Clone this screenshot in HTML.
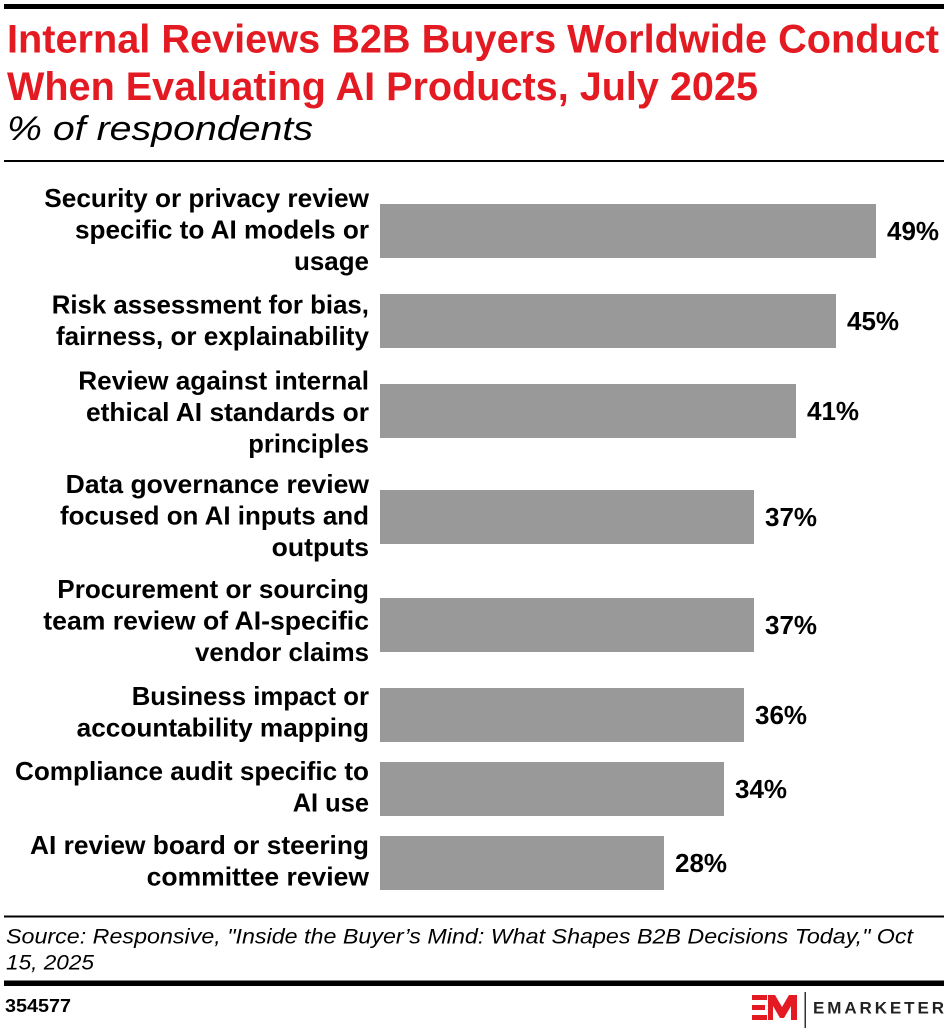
<!DOCTYPE html>
<html>
<head>
<meta charset="utf-8">
<style>
  html, body { margin: 0; padding: 0; background: #fff; }
  body { width: 948px; height: 1028px; overflow: hidden; }
  svg { display: block; }
  .lab { font-family: "Liberation Sans", Arial, sans-serif; font-weight: bold; font-size: 26px; fill: #000; }
  .val { font-family: "Liberation Sans", Arial, sans-serif; font-weight: bold; font-size: 26px; fill: #000; }
</style>
</head>
<body>
<svg width="948" height="1028" viewBox="0 0 948 1028" xmlns="http://www.w3.org/2000/svg">
  <rect x="0" y="0" width="948" height="1028" fill="#fff"/>
  <!-- top rule -->
  <rect x="4" y="4" width="940" height="5" fill="#000"/>

  <!-- title -->
  <text x="7" y="52.5" font-family="Liberation Sans, Arial, sans-serif" font-weight="bold" font-size="39.5" fill="#e41a22" textLength="932" lengthAdjust="spacingAndGlyphs">Internal Reviews B2B Buyers Worldwide Conduct</text>
  <text x="7" y="100" font-family="Liberation Sans, Arial, sans-serif" font-weight="bold" font-size="39.5" fill="#e41a22" textLength="751" lengthAdjust="spacingAndGlyphs">When Evaluating AI Products, July 2025</text>
  <text x="7" y="140" font-family="Liberation Sans, Arial, sans-serif" font-style="italic" font-size="34" fill="#000" textLength="306" lengthAdjust="spacingAndGlyphs">% of respondents</text>

  <rect x="4" y="160" width="940" height="2" fill="#000"/>

  <!-- bars -->
  <g fill="#999999">
    <rect x="380" y="204" width="496" height="54"/>
    <rect x="380" y="294" width="456" height="54"/>
    <rect x="380" y="384" width="416" height="54"/>
    <rect x="380" y="490" width="374" height="54"/>
    <rect x="380" y="598" width="374" height="54"/>
    <rect x="380" y="688" width="364" height="54"/>
    <rect x="380" y="762" width="344" height="54"/>
    <rect x="380" y="836" width="284" height="54"/>
  </g>

  <!-- values -->
  <text class="val" x="887" y="240">49%</text>
  <text class="val" x="847" y="330">45%</text>
  <text class="val" x="807" y="420">41%</text>
  <text class="val" x="765" y="526">37%</text>
  <text class="val" x="765" y="634">37%</text>
  <text class="val" x="755" y="724">36%</text>
  <text class="val" x="735" y="798">34%</text>
  <text class="val" x="675" y="872">28%</text>

  <!-- category labels -->
  <text class="lab" x="44.3" y="207" textLength="324.7" lengthAdjust="spacingAndGlyphs">Security or privacy review</text>
  <text class="lab" x="75" y="238.5" textLength="294" lengthAdjust="spacingAndGlyphs">specific to AI models or</text>
  <text class="lab" x="294" y="270" textLength="75" lengthAdjust="spacingAndGlyphs">usage</text>

  <text class="lab" x="51.7" y="313.5" textLength="317.3" lengthAdjust="spacingAndGlyphs">Risk assessment for bias,</text>
  <text class="lab" x="56" y="345" textLength="313" lengthAdjust="spacingAndGlyphs">fairness, or explainability</text>

  <text class="lab" x="78.3" y="389.5" textLength="290.7" lengthAdjust="spacingAndGlyphs">Review against internal</text>
  <text class="lab" x="86" y="421" textLength="283" lengthAdjust="spacingAndGlyphs">ethical AI standards or</text>
  <text class="lab" x="248.3" y="452.5" textLength="120.7" lengthAdjust="spacingAndGlyphs">principles</text>

  <text class="lab" x="65.7" y="493" textLength="303.3" lengthAdjust="spacingAndGlyphs">Data governance review</text>
  <text class="lab" x="60" y="524.5" textLength="309" lengthAdjust="spacingAndGlyphs">focused on AI inputs and</text>
  <text class="lab" x="271.7" y="556" textLength="97.3" lengthAdjust="spacingAndGlyphs">outputs</text>

  <text class="lab" x="57.3" y="598" textLength="311.7" lengthAdjust="spacingAndGlyphs">Procurement or sourcing</text>
  <text class="lab" x="43.3" y="629.5" textLength="325.7" lengthAdjust="spacingAndGlyphs">team review of AI-specific</text>
  <text class="lab" x="195" y="661" textLength="174" lengthAdjust="spacingAndGlyphs">vendor claims</text>

  <text class="lab" x="131.7" y="705" textLength="237.3" lengthAdjust="spacingAndGlyphs">Business impact or</text>
  <text class="lab" x="76.7" y="736.5" textLength="292.3" lengthAdjust="spacingAndGlyphs">accountability mapping</text>

  <text class="lab" x="15" y="780" textLength="354" lengthAdjust="spacingAndGlyphs">Compliance audit specific to</text>
  <text class="lab" x="292.7" y="811.5" textLength="76.3" lengthAdjust="spacingAndGlyphs">AI use</text>

  <text class="lab" x="30" y="854" textLength="339" lengthAdjust="spacingAndGlyphs">AI review board or steering</text>
  <text class="lab" x="146.7" y="885.5" textLength="222.3" lengthAdjust="spacingAndGlyphs">committee review</text>

  <!-- source -->
  <rect x="4" y="915.5" width="940" height="2" fill="#000"/>
  <text x="6" y="943.3" font-family="Liberation Sans, Arial, sans-serif" font-style="italic" font-size="21" fill="#000" textLength="907" lengthAdjust="spacingAndGlyphs">Source: Responsive, "Inside the Buyer’s Mind: What Shapes B2B Decisions Today," Oct</text>
  <text x="6" y="969.3" font-family="Liberation Sans, Arial, sans-serif" font-style="italic" font-size="21" fill="#000" textLength="88" lengthAdjust="spacingAndGlyphs">15, 2025</text>

  <rect x="4" y="980.5" width="940" height="5.5" fill="#000"/>

  <text x="5" y="1012" font-family="Liberation Sans, Arial, sans-serif" font-weight="bold" font-size="18" fill="#000" textLength="66" lengthAdjust="spacingAndGlyphs">354577</text>

  <!-- logo -->
  <g fill="#e41a22">
    <rect x="752" y="995" width="15" height="5"/>
    <rect x="752" y="1005" width="13" height="5"/>
    <rect x="752" y="1015" width="15" height="5"/>
    <polygon points="768,995 775,995 782,1007 789,995 797,995 797,1020 791,1020 791,1006 784,1018 780,1018 773,1006 773,1020 768,1020"/>
  </g>
  <rect x="804.5" y="992" width="1.5" height="36" fill="#333"/>
  <text x="813" y="1013.5" font-family="Liberation Sans, Arial, sans-serif" font-weight="bold" font-size="17" fill="#222" textLength="131" lengthAdjust="spacing">EMARKETER</text>
</svg>
</body>
</html>
